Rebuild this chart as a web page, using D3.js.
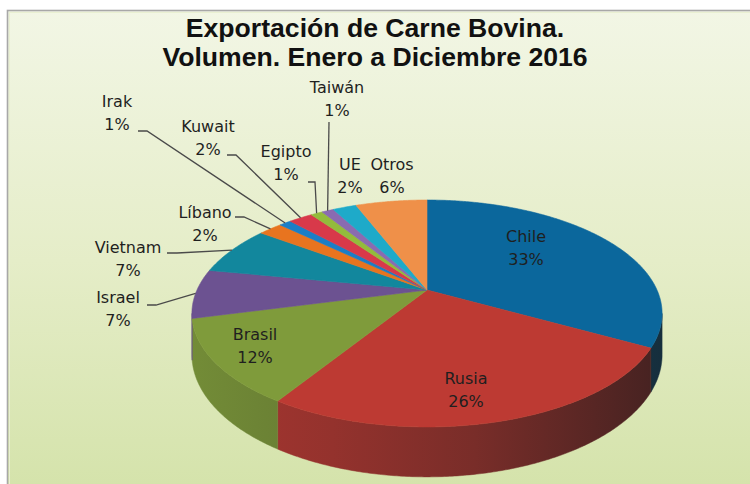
<!DOCTYPE html>
<html><head><meta charset="utf-8">
<script src="https://cdn.jsdelivr.net/npm/d3@7"></script>
<style>html,body{margin:0;padding:0;background:#fff} svg{display:block}</style>
</head><body>
<svg id="c" width="750" height="484"></svg>
<script>
// ---- data ----
const categories = ["Chile","Rusia","Brasil","Israel","Vietnam","Líbano","Irak","Kuwait","Egipto","Taiwán","UE","Otros"];
const values = [33,26,12,7,7,2,1,2,1,1,2,6];
const colors = ["#0b679c","#bd3a33","#7f9b3b","#6c5291","#12879d","#e8741f","#1b7ec6","#d8394a","#93bb3c","#8a6bb1","#1eaac9","#ef9049"];
const titleLines = ["Exportación de Carne Bovina.","Volumen. Enero a Diciembre 2016"];

// ---- layout (label placement) ----
const labelX = [526,466,255,118,128,205,117,208,286,337,350,392];
const labelY = [242,384,340,303,253,218,107,132,157,93,170,170];
// leader line start points for outside labels (index -> [x,y,elbowDx])
const leaders = {3:[147,305,9],4:[167,253,10],5:[235,217,9],6:[138,131,9],7:[227,155,9],8:[308,182,7],9:[329,122,0]};

const svg = d3.select("#c");
const defs = svg.append("defs");

// background gradient
const bg = defs.append("linearGradient").attr("id","bg").attr("x1",0).attr("y1",0).attr("x2",0).attr("y2",1);
bg.append("stop").attr("offset","0%").attr("stop-color","#f2f6e5");
bg.append("stop").attr("offset","50%").attr("stop-color","#e5edc8");
bg.append("stop").attr("offset","100%").attr("stop-color","#d3e2a8");
svg.append("rect").attr("x",7.5).attr("y",10.5).attr("width",800).attr("height",500)
  .attr("fill","url(#bg)").attr("stroke","#a8a8a8").attr("stroke-width",1.6);
svg.append("rect").attr("x",9.5).attr("y",12.5).attr("width",800).attr("height",500)
  .attr("fill","none").attr("stroke","#e9f0d2").attr("stroke-width",1);

// title
svg.append("text").attr("x",375).attr("y",37).attr("text-anchor","middle")
  .style("font-family","'Liberation Sans',Arial,sans-serif").style("font-weight","bold")
  .style("font-size","26.6px").attr("fill","#111")
  .selectAll("tspan").data(titleLines).join("tspan")
  .attr("x",375).attr("dy",(d,i)=>i?29:0).text(d=>d);

// ---- 3D pie projection ----
const cx=427, cy=290, rx=230, ry=108.6, persp=0.207, depth=39.6;
function proj(a, r){
  const u = Math.sin(a)*r, v = -Math.cos(a)*r;
  const s = 1/(1-persp*v);
  return [cx + rx*u*s, cy + ry*v*s, s];
}
const pie = d3.pie().sort(null).value(d=>d)(values);
const step = Math.PI/360;
function arcPts(a0,a1){
  const pts=[]; const n=Math.max(2,Math.ceil((a1-a0)/step));
  for(let i=0;i<=n;i++){ pts.push(proj(a0+(a1-a0)*i/n,1)); }
  return pts;
}
const line = d3.line();

// side faces
const aR = Math.acos(-persp), aL = 2*Math.PI - Math.acos(-persp);
const xL = cx - rx*1.03, xR = cx + rx*1.03;
pie.forEach((p,i)=>{
  const lo=Math.max(p.startAngle,aR), hi=Math.min(p.endAngle,aL);
  if(lo>=hi) return;
  const g = defs.append("linearGradient").attr("id","side"+i).attr("gradientUnits","userSpaceOnUse")
    .attr("x1",xL).attr("y1",0).attr("x2",xR).attr("y2",0);
  const mix = d3.interpolateRgb(colors[i],"#1a1a1a");
  [[0,0.12],[0.3,0.25],[0.6,0.42],[1,0.74]].forEach(([o,m])=>g.append("stop").attr("offset",o).attr("stop-color",mix(m)));
  const top = arcPts(lo,hi);
  const bot = top.map(([x,y,s])=>[x,y+depth*s]).reverse();
  svg.append("path").attr("d",line(top.map(d=>[d[0],d[1]]).concat(bot))+"Z")
    .attr("fill","url(#side"+i+")").attr("stroke","url(#side"+i+")").attr("stroke-width",0.5);
});

// top faces
pie.forEach((p,i)=>{
  const pts=[[cx,cy]].concat(arcPts(p.startAngle,p.endAngle).map(d=>[d[0],d[1]]));
  svg.append("path").attr("d",line(pts)+"Z").attr("fill",colors[i])
    .attr("stroke",colors[i]).attr("stroke-width",0.6).attr("stroke-linejoin","round");
});

// leader lines
Object.entries(leaders).forEach(([k,[sx,sy,dx]])=>{
  const p=pie[+k]; const m=(p.startAngle+p.endAngle)/2;
  const e=proj(m,1);
  const pts = dx? [[sx,sy],[sx+dx,sy],[e[0],e[1]]] : [[sx,sy],[e[0],e[1]]];
  svg.append("path").attr("d",line(pts)).attr("fill","none")
    .attr("stroke","#4a4a4a").attr("stroke-width",1.3);
});

// labels
const lab = svg.append("g").style("font-family","'DejaVu Sans',Verdana,sans-serif")
  .style("font-size","16px").attr("fill","#1f1f1f").attr("text-anchor","middle");
categories.forEach((c,i)=>{
  const t = lab.append("text").attr("x",labelX[i]).attr("y",labelY[i]);
  t.append("tspan").attr("x",labelX[i]).text(c);
  t.append("tspan").attr("x",labelX[i]).attr("dy",23).text(values[i]+"%");
});
</script>
</body></html>
